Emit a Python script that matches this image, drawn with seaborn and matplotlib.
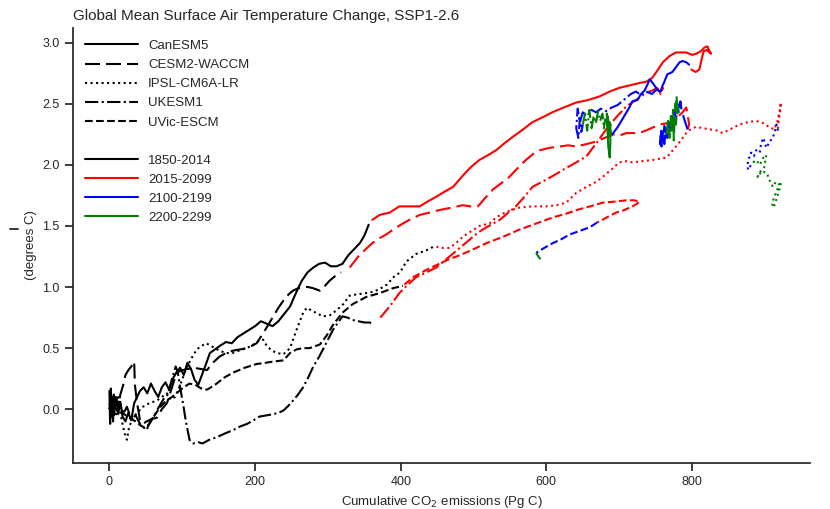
import matplotlib
matplotlib.use("Agg")
import matplotlib.pyplot as plt
from matplotlib.lines import Line2D
import pandas as pd
import seaborn as sns

MODELS = ["CanESM5", "CESM2-WACCM", "IPSL-CM6A-LR", "UKESM1", "UVic-ESCM"]
PERIODS = ["1850-2014", "2015-2099", "2100-2199", "2200-2299"]
PERIOD_COLORS = ["#000000", "#ff0000", "#0000ff", "#008000"]
MODEL_DASHES = ["", (7.2, 2.9), (1, 1.65), (6.4, 1.6, 1, 1.6), (3.7, 1.6)]

# Each list: (cumulative CO2 emissions [Pg C], temperature change [degrees C])
CANESM5_HIST = [(0, 0.15), (1, -0.12), (2, 0.17), (3, -0.06), (4, 0.10), (5, -0.10), (6, 0.12),
                (8, 0.02), (10, 0.08), (12, -0.04), (15, 0.06), (18, -0.06), (22, -0.10), (26, -0.03),
                (30, -0.09), (34, 0.05), (38, 0.10), (42, 0.15), (47, 0.18), (52, 0.13), (57, 0.21),
                (62, 0.15), (67, 0.10), (72, 0.18), (77, 0.22), (82, 0.16), (87, 0.25), (92, 0.30),
                (97, 0.34), (102, 0.28), (107, 0.38), (112, 0.33), (117, 0.24), (122, 0.20), (127, 0.28),
                (132, 0.36), (138, 0.46), (145, 0.49), (152, 0.52), (160, 0.55), (168, 0.54), (176, 0.59),
                (184, 0.62), (192, 0.65), (200, 0.68), (208, 0.72), (216, 0.70), (224, 0.68), (232, 0.72),
                (240, 0.78), (248, 0.84), (256, 0.95), (264, 1.05), (272, 1.12), (280, 1.16), (288, 1.19),
                (296, 1.20), (304, 1.17), (312, 1.17), (320, 1.19), (328, 1.26), (336, 1.31), (344, 1.36),
                (350, 1.42), (356, 1.51)]
CANESM5_SSP = [(361, 1.55), (371, 1.59), (385, 1.61), (398, 1.66), (412, 1.66), (426, 1.66), (437, 1.70),
               (449, 1.74), (460, 1.78), (472, 1.82), (485, 1.91), (496, 1.98), (508, 2.04), (520, 2.08),
               (531, 2.12), (543, 2.18), (554, 2.23), (568, 2.29), (581, 2.35), (595, 2.39), (608, 2.43),
               (624, 2.47), (641, 2.51), (657, 2.53), (673, 2.56), (687, 2.60), (700, 2.63), (714, 2.65),
               (728, 2.67), (737, 2.68), (745, 2.71), (751, 2.76), (760, 2.84), (769, 2.89), (778, 2.92),
               (792, 2.92), (800, 2.90), (806, 2.91), (812, 2.93), (817, 2.96), (821, 2.97), (824, 2.93),
               (826, 2.91), (820, 2.94), (816, 2.93), (813, 2.86), (810, 2.78), (805, 2.76), (799, 2.78)]
CANESM5_EXT1 = [(796, 2.82), (792, 2.84), (787, 2.85), (783, 2.84), (778, 2.80), (773, 2.76), (766, 2.74),
                (762, 2.68), (759, 2.64), (757, 2.60), (753, 2.61), (746, 2.67), (742, 2.70), (739, 2.66),
                (735, 2.61), (730, 2.58), (725, 2.53), (718, 2.52), (714, 2.47), (710, 2.43), (704, 2.37),
                (698, 2.31), (693, 2.27), (689, 2.24)]
CANESM5_EXT2 = [(689, 2.24), (687, 2.35), (685, 2.28), (683, 2.42), (685, 2.15), (687, 2.06), (688, 2.20),
                (686, 2.32), (684, 2.40), (686, 2.25), (688, 2.33)]

CESM2_HIST = [(0, 0.0), (3, 0.08), (6, -0.05), (9, 0.10), (12, 0.02), (15, 0.12), (19, 0.20), (22, 0.28),
              (26, 0.32), (30, 0.35), (34, 0.39), (35, 0.20), (38, 0.05), (42, -0.09), (46, -0.12),
              (51, -0.10), (58, -0.08), (65, -0.07), (72, 0.0), (79, 0.05), (86, 0.18), (92, 0.30),
              (100, 0.32), (108, 0.33), (115, 0.34), (125, 0.33), (134, 0.32), (142, 0.38), (151, 0.43),
              (160, 0.46), (170, 0.48), (180, 0.49), (188, 0.50), (196, 0.52), (202, 0.54), (211, 0.62),
              (218, 0.69), (225, 0.76), (232, 0.83), (239, 0.89), (246, 0.94), (252, 0.97), (259, 0.99),
              (266, 1.00), (273, 1.00), (280, 0.99), (289, 0.97), (296, 1.01), (302, 1.05), (310, 1.09),
              (318, 1.12)]
CESM2_SSP = [(330, 1.16), (343, 1.26), (352, 1.31), (361, 1.36), (371, 1.40), (380, 1.43), (392, 1.48),
             (403, 1.52), (412, 1.55), (426, 1.59), (440, 1.61), (453, 1.63), (470, 1.65), (485, 1.67),
             (496, 1.66), (506, 1.66), (516, 1.73), (527, 1.80), (538, 1.85), (549, 1.90), (560, 1.97),
             (572, 2.04), (582, 2.09), (591, 2.12), (605, 2.14), (618, 2.15), (630, 2.16), (641, 2.15),
             (655, 2.17), (668, 2.19), (680, 2.22), (691, 2.25), (700, 2.24), (710, 2.26), (721, 2.26),
             (732, 2.27), (744, 2.30), (755, 2.33), (765, 2.34), (773, 2.35), (780, 2.39), (787, 2.43),
             (792, 2.47), (794, 2.42), (795, 2.37), (796, 2.33), (794, 2.29)]
CESM2_EXT1 = [(794, 2.29), (790, 2.36), (786, 2.44), (784, 2.52), (782, 2.42), (780, 2.50), (778, 2.36),
              (776, 2.44), (774, 2.30), (772, 2.40), (770, 2.26), (768, 2.35), (766, 2.22), (764, 2.30),
              (762, 2.17), (760, 2.26), (758, 2.15), (757, 2.24), (756, 2.17), (758, 2.28), (760, 2.20),
              (762, 2.32), (765, 2.25)]
CESM2_EXT2 = [(765, 2.25), (767, 2.36), (769, 2.22), (771, 2.40), (772, 2.28), (774, 2.45), (775, 2.20),
              (776, 2.38), (777, 2.50), (778, 2.33), (779, 2.56), (780, 2.42), (779, 2.52), (781, 2.45)]

IPSL_HIST = [(0, 0.0), (3, 0.12), (6, 0.04), (9, -0.06), (12, 0.10), (15, -0.03), (18, -0.12), (21, -0.20),
             (24, -0.25), (27, -0.15), (32, -0.07), (38, -0.03), (46, 0.02), (55, 0.05), (65, 0.07),
             (72, 0.10), (79, 0.13), (84, 0.08), (90, 0.10), (96, 0.18), (101, 0.26), (106, 0.34),
             (113, 0.42), (119, 0.48), (124, 0.51), (133, 0.54), (142, 0.51), (151, 0.48), (160, 0.46),
             (169, 0.46), (178, 0.48), (188, 0.50), (196, 0.52), (202, 0.55), (211, 0.57), (216, 0.52),
             (223, 0.48), (230, 0.46), (239, 0.45), (248, 0.50), (257, 0.65), (266, 0.79), (271, 0.83),
             (280, 0.80), (293, 0.76), (303, 0.77), (312, 0.81), (321, 0.86), (330, 0.93), (340, 0.94),
             (352, 0.95), (361, 0.96), (370, 0.98), (381, 1.02), (390, 1.08), (399, 1.12), (408, 1.21),
             (421, 1.27), (435, 1.30), (445, 1.33)]
IPSL_SSP = [(449, 1.33), (458, 1.32), (467, 1.32), (476, 1.36), (485, 1.41), (495, 1.45), (508, 1.50),
            (522, 1.52), (531, 1.57), (540, 1.60), (552, 1.63), (563, 1.65), (580, 1.66), (600, 1.66),
            (614, 1.67), (627, 1.69), (641, 1.77), (655, 1.82), (668, 1.86), (677, 1.90), (689, 1.96),
            (700, 2.02), (710, 2.03), (718, 2.02), (732, 2.03), (746, 2.04), (765, 2.06), (778, 2.15),
            (786, 2.21), (792, 2.26), (800, 2.30), (806, 2.31), (815, 2.30), (825, 2.29), (835, 2.28),
            (842, 2.26), (852, 2.29), (865, 2.33), (877, 2.35), (888, 2.36), (898, 2.34), (906, 2.31),
            (913, 2.29), (917, 2.35), (920, 2.43), (922, 2.51), (921, 2.44), (919, 2.36), (918, 2.29)]
IPSL_EXT1 = [(918, 2.28), (916, 2.33), (913, 2.26), (911, 2.22), (908, 2.20), (904, 2.16), (902, 2.14),
             (898, 2.22), (895, 2.18), (893, 2.10), (888, 2.12), (885, 2.07), (881, 2.10), (878, 2.05),
             (876, 2.00), (877, 1.96), (880, 1.99), (884, 2.02)]
IPSL_EXT2 = [(884, 2.02), (888, 2.04), (893, 2.00), (898, 2.06), (902, 2.08), (899, 1.98), (893, 1.94),
             (890, 1.90), (896, 1.95), (903, 1.93), (906, 1.88), (911, 1.82), (915, 1.86), (920, 1.84),
             (916, 1.78), (913, 1.74), (910, 1.68), (912, 1.65), (916, 1.72), (920, 1.80), (922, 1.85)]

UKESM1_HIST = [(0, 0.05), (3, -0.05), (6, 0.08), (10, -0.02), (14, 0.06), (19, -0.04), (24, 0.02),
               (30, -0.08), (36, -0.05), (42, -0.12), (47, -0.15), (51, -0.17), (56, -0.10), (62, -0.05),
               (68, 0.02), (74, 0.08), (80, 0.12), (86, 0.25), (91, 0.35), (94, 0.30), (97, 0.18),
               (101, 0.05), (105, -0.10), (110, -0.25), (115, -0.28), (122, -0.27), (128, -0.28),
               (137, -0.25), (147, -0.23), (158, -0.20), (170, -0.17), (180, -0.14), (189, -0.12),
               (198, -0.09), (206, -0.06), (216, -0.05), (225, -0.04), (232, -0.03), (239, -0.01),
               (246, 0.03), (252, 0.07), (259, 0.12), (266, 0.18), (273, 0.26), (280, 0.35), (288, 0.43),
               (295, 0.51), (301, 0.58), (307, 0.65), (314, 0.71), (320, 0.76), (327, 0.75), (334, 0.73),
               (342, 0.72), (350, 0.71), (357, 0.71), (362, 0.70)]
UKESM1_SSP = [(372, 0.75), (386, 0.85), (398, 0.95), (410, 1.02), (421, 1.08), (435, 1.12), (449, 1.16),
              (467, 1.25), (481, 1.32), (495, 1.39), (507, 1.45), (518, 1.49), (536, 1.55), (558, 1.66),
              (570, 1.74), (581, 1.82), (600, 1.88), (612, 1.92), (623, 1.96), (641, 2.02), (655, 2.07),
              (669, 2.18), (682, 2.29), (696, 2.39), (710, 2.48), (723, 2.53), (737, 2.59), (746, 2.61),
              (752, 2.63), (757, 2.58), (760, 2.63), (756, 2.60), (752, 2.62)]
UKESM1_EXT1 = [(752, 2.62), (745, 2.58), (737, 2.60), (730, 2.57), (723, 2.60), (716, 2.58), (710, 2.55),
               (704, 2.52), (698, 2.49), (690, 2.47), (682, 2.44), (675, 2.46), (668, 2.43), (662, 2.45),
               (656, 2.40), (650, 2.43), (646, 2.35), (643, 2.46), (641, 2.30), (644, 2.22), (646, 2.38),
               (648, 2.27), (650, 2.33)]
UKESM1_EXT2 = [(650, 2.33), (653, 2.42), (656, 2.28), (659, 2.45), (662, 2.30), (665, 2.40), (668, 2.34),
               (671, 2.44), (674, 2.36), (677, 2.42), (679, 2.30), (681, 2.38)]

UVIC_HIST = [(0, 0.0), (5, 0.02), (10, -0.02), (15, 0.03), (20, -0.04), (25, -0.06), (30, -0.08),
             (36, -0.10), (42, -0.13), (48, -0.15), (55, -0.12), (62, -0.05), (70, 0.02), (78, 0.07),
             (86, 0.10), (94, 0.14), (102, 0.18), (110, 0.21), (118, 0.20), (126, 0.17), (134, 0.16),
             (145, 0.20), (158, 0.26), (170, 0.30), (186, 0.34), (202, 0.37), (214, 0.38), (225, 0.39),
             (239, 0.40), (248, 0.46), (257, 0.49), (266, 0.50), (275, 0.50), (289, 0.53), (298, 0.60),
             (307, 0.69), (320, 0.79), (334, 0.86), (353, 0.92), (371, 0.95), (389, 0.99), (403, 1.01)]
UVIC_SSP = [(405, 1.02), (417, 1.08), (435, 1.14), (453, 1.19), (467, 1.23), (481, 1.26), (500, 1.31),
            (518, 1.36), (540, 1.41), (563, 1.47), (586, 1.52), (609, 1.57), (627, 1.60), (641, 1.63),
            (660, 1.66), (677, 1.69), (695, 1.70), (710, 1.71), (720, 1.71), (728, 1.70), (724, 1.68),
            (718, 1.66), (707, 1.63), (696, 1.61), (686, 1.58), (677, 1.55), (670, 1.53)]
UVIC_EXT1 = [(670, 1.53), (660, 1.49), (646, 1.46), (632, 1.43), (620, 1.39), (609, 1.36), (597, 1.32),
             (586, 1.28)]
UVIC_EXT2 = [(586, 1.28), (589, 1.25), (593, 1.22)]

SEGMENTS = {
    ("CanESM5", "1850-2014"): CANESM5_HIST,
    ("CanESM5", "2015-2099"): CANESM5_SSP,
    ("CanESM5", "2100-2199"): CANESM5_EXT1,
    ("CanESM5", "2200-2299"): CANESM5_EXT2,
    ("CESM2-WACCM", "1850-2014"): CESM2_HIST,
    ("CESM2-WACCM", "2015-2099"): CESM2_SSP,
    ("CESM2-WACCM", "2100-2199"): CESM2_EXT1,
    ("CESM2-WACCM", "2200-2299"): CESM2_EXT2,
    ("IPSL-CM6A-LR", "1850-2014"): IPSL_HIST,
    ("IPSL-CM6A-LR", "2015-2099"): IPSL_SSP,
    ("IPSL-CM6A-LR", "2100-2199"): IPSL_EXT1,
    ("IPSL-CM6A-LR", "2200-2299"): IPSL_EXT2,
    ("UKESM1", "1850-2014"): UKESM1_HIST,
    ("UKESM1", "2015-2099"): UKESM1_SSP,
    ("UKESM1", "2100-2199"): UKESM1_EXT1,
    ("UKESM1", "2200-2299"): UKESM1_EXT2,
    ("UVic-ESCM", "1850-2014"): UVIC_HIST,
    ("UVic-ESCM", "2015-2099"): UVIC_SSP,
    ("UVic-ESCM", "2100-2199"): UVIC_EXT1,
    ("UVic-ESCM", "2200-2299"): UVIC_EXT2,
}

rows = []
for (model, period), points in SEGMENTS.items():
    for step, (emis, temp) in enumerate(points):
        rows.append({"model": model, "period": period, "segment": f"{model} {period}",
                     "step": step, "emissions": emis, "temperature": temp})
df = pd.DataFrame(rows)

sns.set_theme(style="ticks")
plt.rcParams["font.family"] = ["Liberation Sans", "DejaVu Sans"]

fig = plt.figure(figsize=(8.3, 5.09), dpi=100)
ax = fig.add_axes([73 / 830, 1 - 463 / 509, (810 - 73) / 830, (463 - 28) / 509])

sns.lineplot(data=df, x="emissions", y="temperature", hue="period", style="model",
             units="segment", estimator=None, sort=False,
             hue_order=PERIODS, palette=dict(zip(PERIODS, PERIOD_COLORS)),
             style_order=MODELS, dashes=dict(zip(MODELS, MODEL_DASHES)),
             linewidth=1.5, legend=False, ax=ax)
sns.despine(ax=ax)

ax.set_xlim(-50, 962)
ax.set_ylim(-0.44, 3.12)
ax.tick_params(labelsize=9)
ax.set_xlabel("Cumulative CO$_2$ emissions (Pg C)", fontsize=9.5)
ax.set_ylabel("(degrees C)", fontsize=9.5)
ax.set_title("Global Mean Surface Air Temperature Change, SSP1-2.6", loc="left", fontsize=11)

# short stray stroke left of the y-axis label
y_mark = 1 - 229 / 509
fig.add_artist(Line2D([10 / 830, 18 / 830], [y_mark, y_mark], color=".15", lw=1.3))

handles, labels = [], []
for model, dash in zip(MODELS, MODEL_DASHES):
    h = Line2D([], [], color="black", lw=1.5)
    h.set_dashes(dash)
    handles.append(h)
    labels.append(model)
handles.append(Line2D([], [], color="none"))
labels.append(" ")
for period, color in zip(PERIODS, PERIOD_COLORS):
    handles.append(Line2D([], [], color=color, lw=1.5))
    labels.append(period)
ax.legend(handles, labels, loc="upper left", frameon=False, fontsize=9.5,
          handlelength=4.0, labelspacing=0.52, bbox_to_anchor=(0.0, 1.0))

fig.savefig("out.png", dpi=100)
